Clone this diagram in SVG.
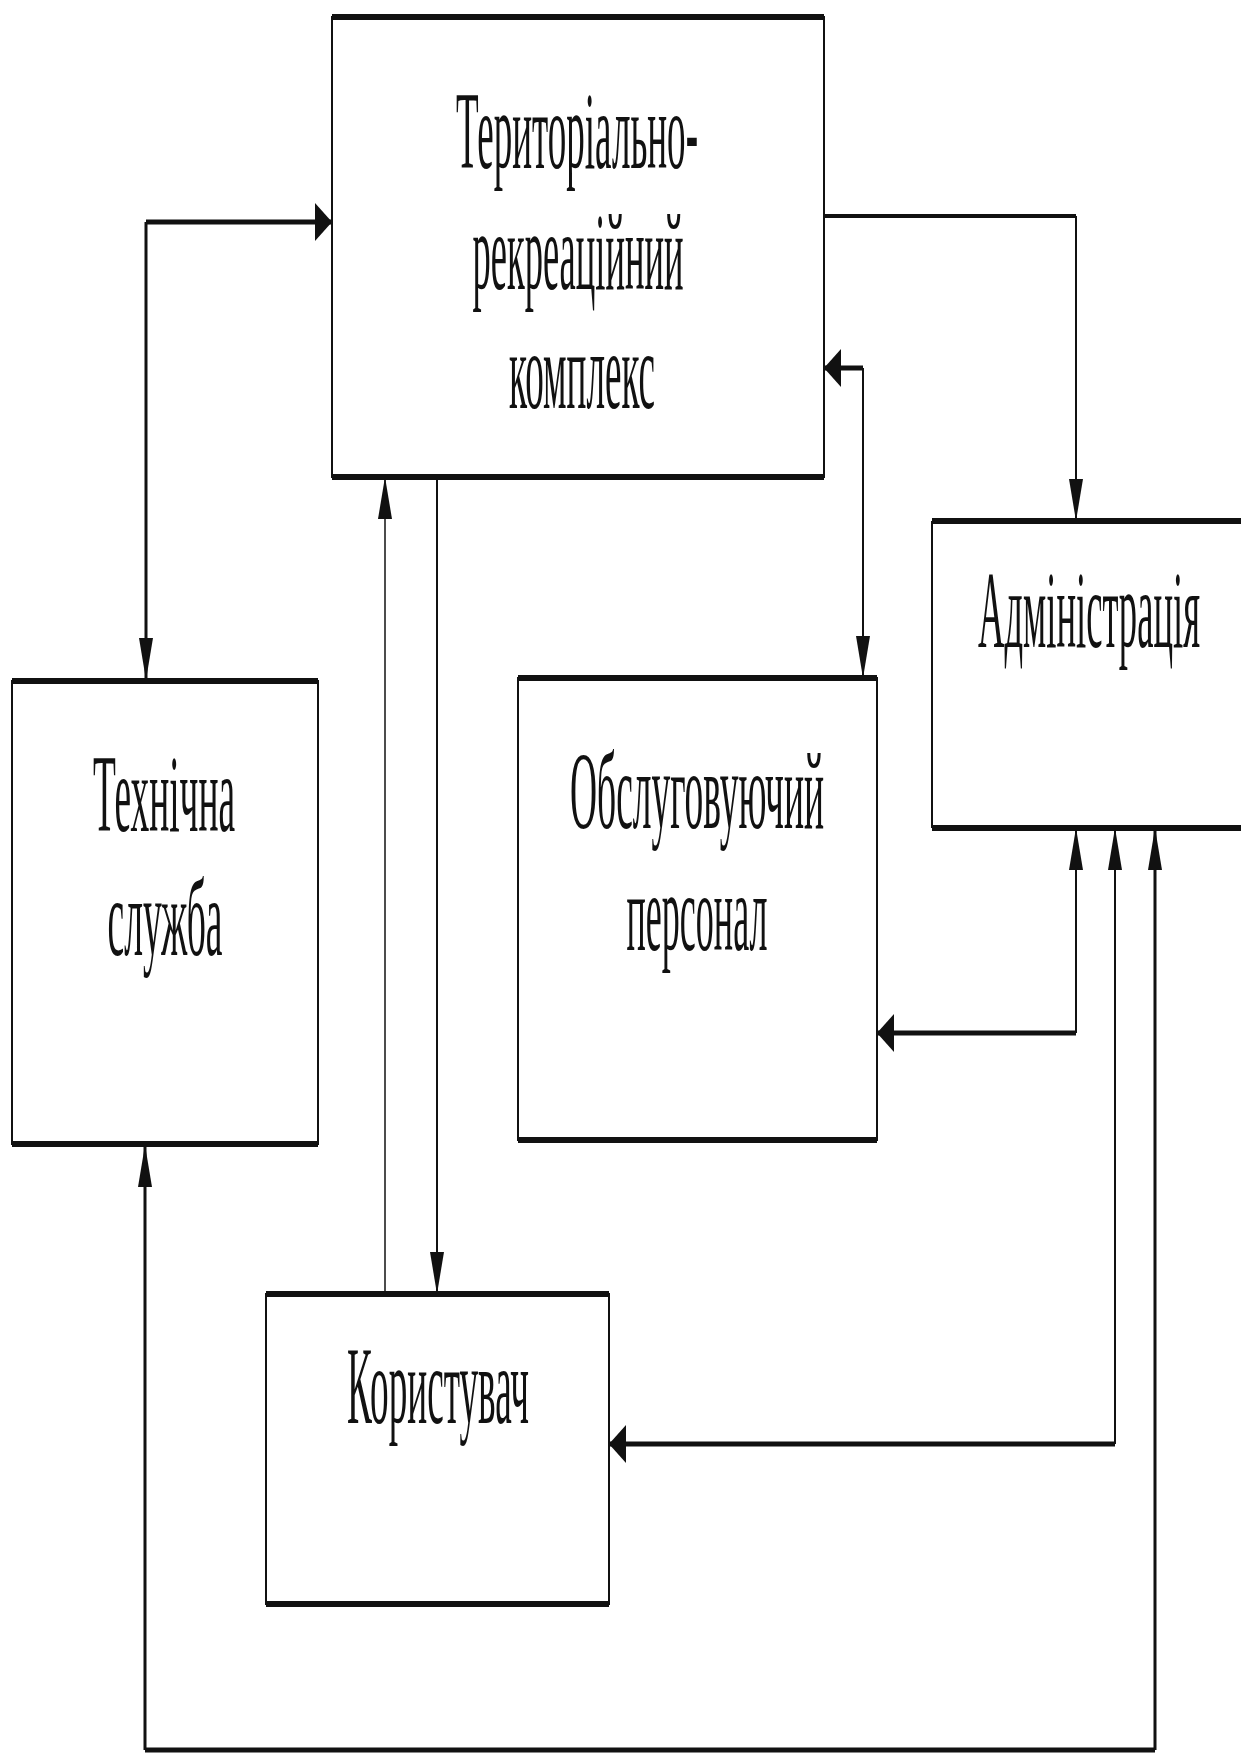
<svg xmlns="http://www.w3.org/2000/svg" width="1241" height="1758" viewBox="0 0 1241 1758">
  <style>
    .box { fill: #ffffff; stroke: #111111; stroke-width: 2; }
    .side { fill: none; stroke: #111111; stroke-width: 2; }
    .edge-h { stroke: #111111; stroke-width: 6; stroke-linecap: butt; }
    .lbl { font-family: "Liberation Serif", "Times New Roman", serif; font-size: 110px; fill: #111111; text-anchor: middle; }
    .wire { fill: none; stroke: #111111; stroke-width: 2; }
    .wire-h { fill: none; stroke: #111111; stroke-width: 5; }
    .head { fill: #111111; }
  </style>
  <defs>
    <!-- arrowheads with tip at the origin -->
    <path id="ah-down" d="M0,0 L-7,-42 L7,-42 Z"/>
    <path id="ah-up" d="M0,0 L-7,42 L7,42 Z"/>
    <path id="ah-right" d="M0,0 L-17,-19 L-17,19 Z"/>
    <path id="ah-left" d="M0,0 L17,-19 L17,19 Z"/>
  </defs>
  <rect width="1241" height="1758" fill="#ffffff"/>

  <!-- connectors -->
  <g id="connectors">
    <!-- complex <-> technical service -->
    <path class="wire-h" d="M332,222 H146"/>
    <path class="wire" d="M146,222 V680" style="stroke-width:3"/>
    <use href="#ah-right" x="332" y="222" class="head"/>
    <use href="#ah-down" x="146" y="680" class="head"/>

    <!-- complex -> administration -->
    <path class="wire-h" d="M824,216 H1076" style="stroke-width:4"/>
    <path class="wire" d="M1076,216 V521"/>
    <use href="#ah-down" x="1076" y="521" class="head"/>

    <!-- complex <-> service staff -->
    <path class="wire-h" d="M824,368 H863"/>
    <path class="wire" d="M863,368 V678"/>
    <use href="#ah-left" x="824" y="368" class="head"/>
    <use href="#ah-down" x="863" y="678" class="head"/>

    <!-- administration <-> service staff -->
    <path class="wire" d="M1076,828 V1033"/>
    <path class="wire-h" d="M1076,1033 H877"/>
    <use href="#ah-up" x="1076" y="828" class="head"/>
    <use href="#ah-left" x="877" y="1033" class="head"/>

    <!-- administration <-> user -->
    <path class="wire" d="M1115,828 V1444"/>
    <path class="wire-h" d="M1115,1444 H609"/>
    <use href="#ah-up" x="1115" y="828" class="head"/>
    <use href="#ah-left" x="609" y="1444" class="head"/>

    <!-- administration <-> technical service -->
    <path class="wire" d="M1155,828 V1750" style="stroke-width:3"/>
    <path class="wire-h" d="M1155,1750 H145"/>
    <path class="wire" d="M145,1750 V1145" style="stroke-width:3"/>
    <use href="#ah-up" x="1155" y="828" class="head"/>
    <use href="#ah-up" x="145" y="1145" class="head"/>

    <!-- user <-> complex -->
    <path class="wire" d="M385,1294 V477" style="stroke-width:1.5"/>
    <use href="#ah-up" x="385" y="477" class="head"/>
    <path class="wire" d="M437,477 V1294"/>
    <use href="#ah-down" x="437" y="1294" class="head"/>
  </g>

  <!-- territorial-recreational complex (labels are set in a narrowed serif) -->
  <g id="node-complex">
    <rect class="box" x="332" y="17" width="492" height="460"/>
    <line class="edge-h" x1="332" y1="17" x2="824" y2="17"/>
    <line class="edge-h" x1="332" y1="477" x2="824" y2="477"/>
    <text class="lbl" transform="translate(577,168) scale(0.3333,1)" textLength="726" lengthAdjust="spacingAndGlyphs">Територіально-</text>
    <text class="lbl" transform="translate(578,289) scale(0.3333,1)" textLength="633" lengthAdjust="spacingAndGlyphs">рекреаційний</text>
    <text class="lbl" transform="translate(582,408) scale(0.3333,1)" textLength="438" lengthAdjust="spacingAndGlyphs">комплекс</text>
  </g>

  <!-- technical service -->
  <g id="node-tech">
    <rect class="box" x="12" y="681" width="306" height="463"/>
    <line class="edge-h" x1="12" y1="681" x2="318" y2="681"/>
    <line class="edge-h" x1="12" y1="1144" x2="318" y2="1144"/>
    <text class="lbl" transform="translate(164,831) scale(0.3333,1)" textLength="426" lengthAdjust="spacingAndGlyphs">Технічна</text>
    <text class="lbl" transform="translate(165,955) scale(0.3333,1)" textLength="345" lengthAdjust="spacingAndGlyphs">служба</text>
  </g>

  <!-- service staff -->
  <g id="node-staff">
    <rect class="box" x="518" y="678" width="359" height="462"/>
    <line class="edge-h" x1="518" y1="678" x2="877" y2="678"/>
    <line class="edge-h" x1="518" y1="1140" x2="877" y2="1140"/>
    <text class="lbl" transform="translate(697,828) scale(0.3333,1)" textLength="762" lengthAdjust="spacingAndGlyphs">Обслуговуючий</text>
    <text class="lbl" transform="translate(697,950) scale(0.3333,1)" textLength="423" lengthAdjust="spacingAndGlyphs">персонал</text>
  </g>

  <!-- administration: box runs to the right margin, right side open -->
  <g id="node-admin">
    <rect x="932" y="521" width="309" height="307" fill="#ffffff"/>
    <path class="side" d="M932,521 V828"/>
    <line class="edge-h" x1="932" y1="521" x2="1241" y2="521"/>
    <line class="edge-h" x1="932" y1="828" x2="1241" y2="828"/>
    <text class="lbl" transform="translate(1089,647) scale(0.3333,1)" textLength="666" lengthAdjust="spacingAndGlyphs">Адміністрація</text>
  </g>

  <!-- user -->
  <g id="node-user">
    <rect class="box" x="266" y="1294" width="343" height="310"/>
    <line class="edge-h" x1="266" y1="1294" x2="609" y2="1294"/>
    <line class="edge-h" x1="266" y1="1604" x2="609" y2="1604"/>
    <text class="lbl" transform="translate(438,1423) scale(0.3333,1)" textLength="546" lengthAdjust="spacingAndGlyphs">Користувач</text>
  </g>
</svg>
